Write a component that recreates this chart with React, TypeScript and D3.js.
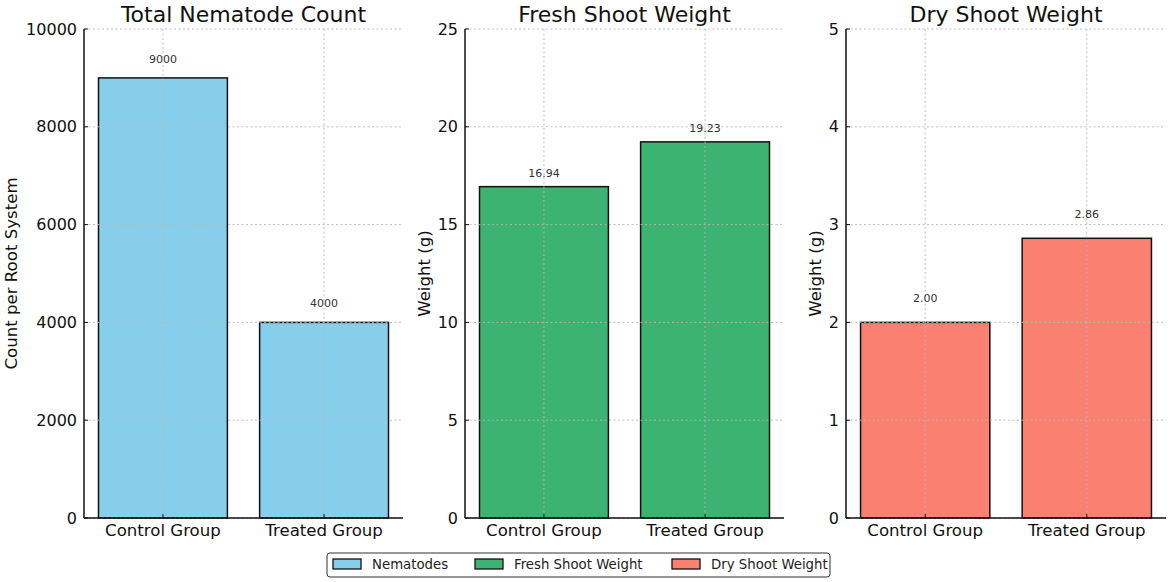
import React from "react";
import * as d3 from "d3";

const categories = ["Control Group", "Treated Group"];
const nematodeCounts = [9000, 4000];
const freshWeights = [16.94, 19.23];
const dryWeights = [2.0, 2.86];

const nematodeTicks = [0, 2000, 4000, 6000, 8000, 10000];
const freshTicks = [0, 5, 10, 15, 20, 25];
const dryTicks = [0, 1, 2, 3, 4, 5];

const titles = ["Total Nematode Count", "Fresh Shoot Weight", "Dry Shoot Weight"];
const yLabels = ["Count per Root System", "Weight (g)", "Weight (g)"];
const legendLabels = ["Nematodes", "Fresh Shoot Weight", "Dry Shoot Weight"];

const W = 1170;
const H = 582;
const FONT = "DejaVu Sans, sans-serif";
const TOP = 29;
const BOTTOM = 518;

interface Panel {
  title: string;
  ylabel: string;
  values: number[];
  ticks: number[];
  color: string;
  fmt: (v: number) => string;
  x0: number;
  x1: number;
  ylabelX: number;
  labelOffset: number;
}

const panels: Panel[] = [
  {
    title: titles[0],
    ylabel: yLabels[0],
    values: nematodeCounts,
    ticks: nematodeTicks,
    color: "#87CEEB",
    fmt: (v) => d3.format("d")(v),
    x0: 84,
    x1: 403,
    ylabelX: 11,
    labelOffset: 18.5,
  },
  {
    title: titles[1],
    ylabel: yLabels[1],
    values: freshWeights,
    ticks: freshTicks,
    color: "#3CB371",
    fmt: (v) => d3.format(".2f")(v),
    x0: 465,
    x1: 784,
    ylabelX: 424,
    labelOffset: 13.5,
  },
  {
    title: titles[2],
    ylabel: yLabels[2],
    values: dryWeights,
    ticks: dryTicks,
    color: "#FA8072",
    fmt: (v) => d3.format(".2f")(v),
    x0: 846,
    x1: 1166,
    ylabelX: 815,
    labelOffset: 23.5,
  },
];

const legendColors = panels.map((p) => p.color);
const legendItemX = [333, 475, 672];

function PanelView({ p }: { p: Panel }) {
  const x = d3.scaleLinear().domain([-0.49, categories.length - 1 + 0.49]).range([p.x0, p.x1]);
  const y = d3
    .scaleLinear()
    .domain([0, p.ticks[p.ticks.length - 1]])
    .range([BOTTOM, TOP]);
  const bw = 0.8;
  const gridStyle = { stroke: "#b8b8b8", strokeWidth: 0.9, strokeDasharray: "2,2.5" };
  return (
    <g>
      {p.values.map((v, i) => (
        <rect
          key={"b" + i}
          x={x(i - bw / 2)}
          y={y(v)}
          width={x(i + bw / 2) - x(i - bw / 2)}
          height={y(0) - y(v)}
          fill={p.color}
          stroke="#111"
          strokeWidth={1.5}
        />
      ))}
      {p.ticks.map((t, i) => (
        <line key={"gy" + i} x1={p.x0} x2={p.x1} y1={y(t)} y2={y(t)} {...gridStyle} />
      ))}
      {categories.map((c, i) => (
        <line key={"gx" + i} x1={x(i)} x2={x(i)} y1={TOP} y2={BOTTOM} {...gridStyle} />
      ))}
      <line x1={p.x0} x2={p.x0} y1={TOP} y2={BOTTOM} stroke="#111" strokeWidth={1.5} />
      <line x1={p.x0} x2={p.x1} y1={BOTTOM} y2={BOTTOM} stroke="#111" strokeWidth={1.5} />
      {p.ticks.map((t, i) => (
        <g key={"ty" + i}>
          <line x1={p.x0} x2={p.x0 + 4} y1={y(t)} y2={y(t)} stroke="#111" strokeWidth={1} />
          <text
            x={p.x0 - 7}
            y={y(t)}
            textAnchor="end"
            dominantBaseline="central"
            fontSize={16}
            fontFamily={FONT}
            fill="#111"
          >
            {t}
          </text>
        </g>
      ))}
      {categories.map((c, i) => (
        <g key={"tx" + i}>
          <line x1={x(i)} x2={x(i)} y1={BOTTOM} y2={BOTTOM - 4} stroke="#111" strokeWidth={1} />
          <text
            x={x(i)}
            y={BOTTOM + 18}
            textAnchor="middle"
            fontSize={16.6}
            fontFamily={FONT}
            fill="#111"
          >
            {c}
          </text>
        </g>
      ))}
      {p.values.map((v, i) => (
        <text
          key={"v" + i}
          x={x(i)}
          y={y(v) - p.labelOffset}
          textAnchor="middle"
          dominantBaseline="central"
          fontSize={11}
          fontFamily={FONT}
          fill="#333"
        >
          {p.fmt(v)}
        </text>
      ))}
      <text
        x={(p.x0 + p.x1) / 2}
        y={22}
        textAnchor="middle"
        fontSize={22}
        fontFamily={FONT}
        fill="#111"
      >
        {p.title}
      </text>
      <text
        transform={`translate(${p.ylabelX},${(TOP + BOTTOM) / 2}) rotate(-90)`}
        textAnchor="middle"
        dominantBaseline="central"
        fontSize={16.6}
        fontFamily={FONT}
        fill="#111"
      >
        {p.ylabel}
      </text>
    </g>
  );
}

export default function App() {
  return (
    <svg
      width={W}
      height={H}
      viewBox={`0 0 ${W} ${H}`}
      style={{ position: "absolute", left: 0, top: 0, background: "#fff" }}
    >
      <rect x={0} y={0} width={W} height={H} fill="#fff" />
      {panels.map((p, i) => (
        <PanelView key={i} p={p} />
      ))}
      <g>
        <rect x={327} y={553} width={503} height={24} rx={3} fill="#fff" stroke="#333" strokeWidth={1} />
        {legendLabels.map((l, i) => (
          <g key={l}>
            <rect
              x={legendItemX[i]}
              y={559}
              width={28}
              height={10}
              fill={legendColors[i]}
              stroke="#111"
              strokeWidth={1.3}
            />
            <text
              x={legendItemX[i] + 39}
              y={564}
              dominantBaseline="central"
              fontSize={13.3}
              fontFamily={FONT}
              fill="#222"
            >
              {l}
            </text>
          </g>
        ))}
      </g>
    </svg>
  );
}
